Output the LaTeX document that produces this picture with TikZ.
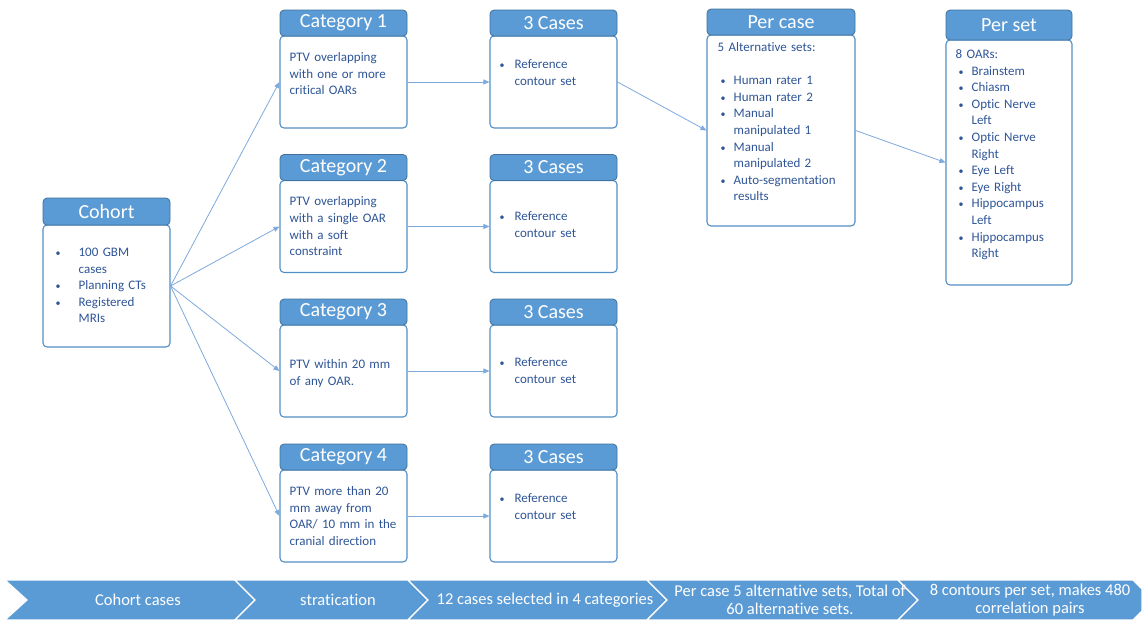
\documentclass[tikz,border=0pt]{standalone}
\usepackage{fontspec}
\setmainfont{Carlito}[Ligatures=NoCommon]
\usetikzlibrary{arrows.meta,calc,positioning}
\definecolor{hdblue}{HTML}{5B9BD5}
\definecolor{hdline}{HTML}{41719C}
\definecolor{txtblue}{HTML}{2F5597}
\definecolor{lnblue}{HTML}{7EA9DC}
\newcommand{\itm}[1]{\makebox[#1][l]{\fontsize{10}{10}\selectfont\textbullet}}
\newcommand{\gap}[1]{\hspace*{#1}}
\tikzset{link/.style={draw=lnblue, line width=0.8pt, -{Triangle[length=6pt, width=5pt]}},
  panel/.style={draw=hdblue!70!hdline, line width=1.1pt, rounded corners=4pt, fill=white, inner sep=0pt},
  hdr/.style={draw=hdline, line width=0.8pt, fill=hdblue, rounded corners=4pt, text=white,
    inner sep=0pt, font=\fontsize{20}{24}\selectfont},
  note/.style={anchor=base west, inner sep=0pt, text width=125pt, align=left, text=txtblue,
    font=\fontsize{13}{16.6}\selectfont},
  stage/.style={fill=hdblue, draw=white, line width=1.2pt},
  stagetxt/.style={text=white, align=center, inner sep=0pt, font=\fontsize{16.5}{18}\selectfont}}

\begin{document}
\begin{tikzpicture}[x=1pt, y=-1pt]
  \useasboundingbox (0,0) rectangle (1142,620);
  % cohort
  \node[panel, minimum width=127pt, minimum height=122pt] (cohort) at (106.5,286) {};
  \node[hdr, minimum width=127pt, minimum height=27pt, above=-1pt of cohort] (cohorthd) {Cohort};
  \node[note] (cohorttx) at ($(cohort.north west)+(13,32)$)
    {\itm{23pt}100 GBM\\\gap{23pt}cases\\\itm{23pt}Planning CTs\\\itm{23pt}Registered\\\gap{23pt}MRIs};
  % four categories, three cases each
  \foreach \i/\y in {1/82,2/226.5,3/371,4/516}{
    \node[panel, minimum width=127pt, minimum height=92pt] (cat\i) at (343.5,\y) {};
    \node[hdr, minimum width=127pt, minimum height=26pt, above=-1pt of cat\i] (cat\i hd) {Category \i};
    \node[panel, minimum width=127pt, minimum height=92pt] (cs\i) at (553.5,\y) {};
    \node[hdr, minimum width=127pt, minimum height=26pt, above=-1pt of cs\i] (cs\i hd) {3 Cases};
    \draw[link] (cohort.east) -- (cat\i.west);
    \draw[link] (cat\i.east) -- (cs\i.west);
  }
  \node[note] (cat1tx) at ($(cat1.north west)+(10,26)$) {PTV overlapping\\with one or more\\critical OARs};
  \node[note] (cat2tx) at ($(cat2.north west)+(10,26)$) {PTV overlapping\\with a single OAR\\with a soft\\constraint};
  \node[note] (cat3tx) at ($(cat3.north west)+(10,44)$) {PTV within 20 mm\\of any OAR.};
  \node[note] (cat4tx) at ($(cat4.north west)+(10,26)$) {PTV more than 20\\mm away from\\OAR/ 10 mm in the\\cranial direction};
  \node[note] (cs1tx) at ($(cs1.north west)+(10,33)$) {\itm{15pt}Reference\\\gap{15pt}contour set};
  \node[note] (cs2tx) at ($(cs2.north west)+(10,41)$) {\itm{15pt}Reference\\\gap{15pt}contour set};
  \node[note] (cs3tx) at ($(cs3.north west)+(10,42)$) {\itm{15pt}Reference\\\gap{15pt}contour set};
  \node[note] (cs4tx) at ($(cs4.north west)+(10,33)$) {\itm{15pt}Reference\\\gap{15pt}contour set};
  % per case
  \node[panel, minimum width=148pt, minimum height=191pt] (percase) at (781,130.5) {};
  \node[hdr, minimum width=148pt, minimum height=26pt, above=-1pt of percase] (percasehd) {Per case};
  \node[note] (percasetx) at ($(percase.north west)+(11,17)$)
    {5 Alternative sets:\\[16.6pt]\gap{3pt}\itm{13pt}Human rater 1\\\gap{3pt}\itm{13pt}Human rater 2\\
     \gap{3pt}\itm{13pt}Manual\\\gap{16pt}manipulated 1\\\gap{3pt}\itm{13pt}Manual\\\gap{16pt}manipulated 2\\
     \gap{3pt}\itm{13pt}Auto-segmentation\\\gap{16pt}results};
  % per set
  \node[panel, minimum width=126pt, minimum height=245pt] (perset) at (1009,162.5) {};
  \node[hdr, minimum width=126pt, minimum height=30pt, above=-1pt of perset] (persethd) {Per set};
  \node[note] (persettx) at ($(perset.north west)+(10,19)$)
    {8 OARs:\\\gap{3pt}\itm{13pt}Brainstem\\\gap{3pt}\itm{13pt}Chiasm\\\gap{3pt}\itm{13pt}Optic Nerve\\
     \gap{16pt}Left\\\gap{3pt}\itm{13pt}Optic Nerve\\\gap{16pt}Right\\\gap{3pt}\itm{13pt}Eye Left\\
     \gap{3pt}\itm{13pt}Eye Right\\\gap{3pt}\itm{13pt}Hippocampus\\\gap{16pt}Left\\
     \gap{3pt}\itm{13pt}Hippocampus\\\gap{16pt}Right};
  \draw[link] (cs1.east) -- (percase.west);
  \draw[link] (percase.east) -- (perset.west);
  % process bar
  \path[stage] (5,580) -- (235,580) -- (255,600) -- (235,620) -- (5,620) -- (27,600) -- cycle;
  \foreach \a/\b in {235/408,408/647,647/898}
    \path[stage] (\a,580) -- (\b,580) -- (\b+20,600) -- (\b,620) -- (\a,620) -- (\a+20,600) -- cycle;
  \path[stage] (898,580) -- (1133,580) -- (1142,589) -- (1142,611) -- (1133,620) -- (898,620) -- (918,600) -- cycle;
  \node[stagetxt] (st1) at (138,600) {Cohort cases};
  \node[stagetxt] (st2) at (338,600) {stratication};
  \node[stagetxt] (st3) at (545,600) {12 cases selected in 4 categories};
  \node[stagetxt] (st4) at (790,600) {Per case 5 alternative sets, Total of\\60 alternative sets.};
  \node[stagetxt] (st5) at (1030,600) {8 contours per set, makes 480\\correlation pairs};
\end{tikzpicture}
\end{document}
